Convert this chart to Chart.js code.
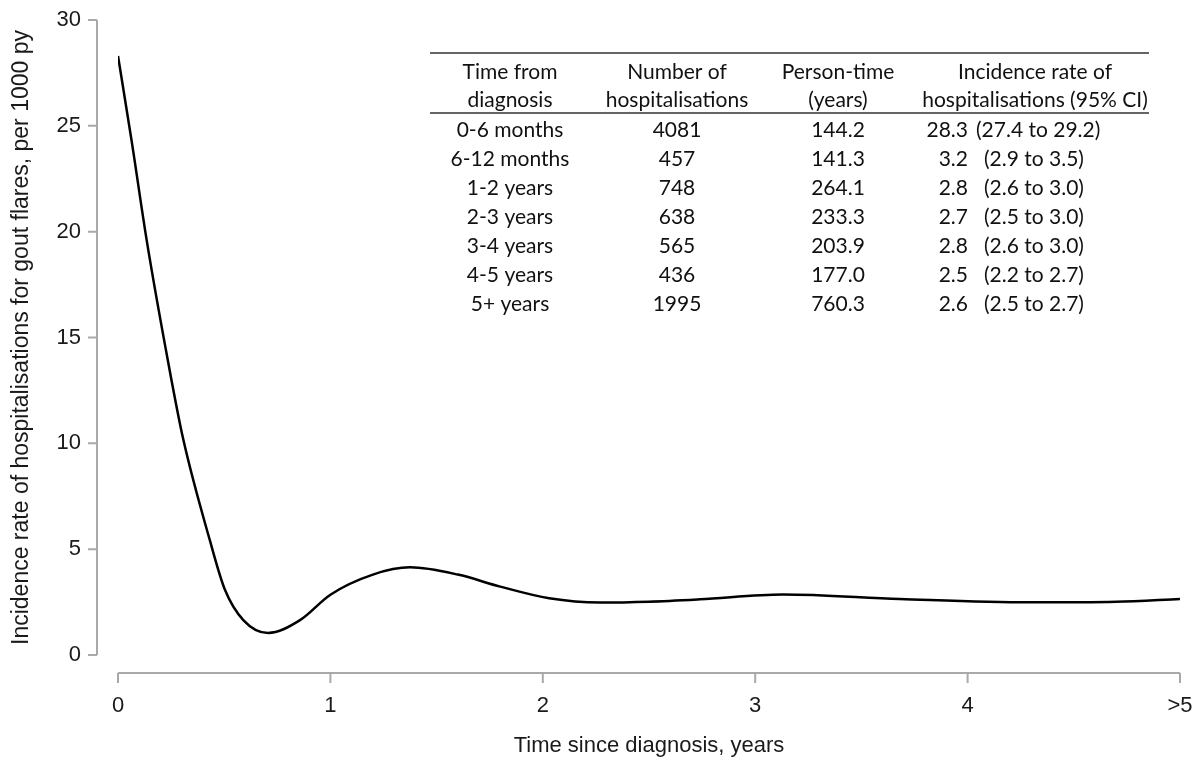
<!DOCTYPE html>
<html>
<head>
<meta charset="utf-8">
<script src="https://cdn.jsdelivr.net/npm/chart.js@4"></script>
<style>
  html, body { margin: 0; padding: 0; background: #fff; }
  #wrap { width: 1200px; height: 761px; }
</style>
</head>
<body>
<div id="wrap"><canvas id="c" width="1200" height="761"></canvas></div>
<script>
// curve (years since diagnosis, rate per 1000 py)
const years = [0, 0.064, 0.135, 0.235, 0.307, 0.433, 0.504, 0.59, 0.706, 0.857, 1.0, 1.2, 1.375, 1.6, 1.8, 2.03, 2.27, 2.5, 2.74, 3.13, 3.68, 4.29, 4.7, 5.0];
const rates = [28.3, 24.3, 19.6, 13.9, 10.2, 5.4, 3.07, 1.65, 1.04, 1.65, 2.85, 3.8, 4.14, 3.8, 3.23, 2.68, 2.48, 2.52, 2.63, 2.86, 2.65, 2.49, 2.52, 2.65];
const xTickLabels = ['0', '1', '2', '3', '4', '>5'];
const yTicks = [0, 5, 10, 15, 20, 25, 30];

// inset table
const tableHeaders = [
  ['Time from', 'diagnosis'],
  ['Number of', 'hospitalisations'],
  ['Person-time', '(years)'],
  ['Incidence rate of', 'hospitalisations (95% CI)']
];
const periods = ['0-6 months', '6-12 months', '1-2 years', '2-3 years', '3-4 years', '4-5 years', '5+ years'];
const hospitalisations = ['4081', '457', '748', '638', '565', '436', '1995'];
const personTime = ['144.2', '141.3', '264.1', '233.3', '203.9', '177.0', '760.3'];
const incidence = ['28.3', '3.2', '2.8', '2.7', '2.8', '2.5', '2.6'];
const ci = ['(27.4 to 29.2)', '(2.9 to 3.5)', '(2.6 to 3.0)', '(2.5 to 3.0)', '(2.6 to 3.0)', '(2.2 to 2.7)', '(2.5 to 2.7)'];

const AXIS_GREY = '#a9a9a9';
const TEXT = '#1a1a1a';

const detachedAxes = {
  id: 'detachedAxes',
  afterDraw(chart) {
    const { ctx, scales: { x, y } } = chart;
    ctx.save();
    ctx.strokeStyle = AXIS_GREY;
    ctx.lineWidth = 2;
    // y axis
    const ax = 97;
    ctx.beginPath();
    ctx.moveTo(ax, y.getPixelForValue(30));
    ctx.lineTo(ax, y.getPixelForValue(0));
    yTicks.forEach(v => {
      const py = y.getPixelForValue(v);
      ctx.moveTo(88, py);
      ctx.lineTo(ax, py);
    });
    ctx.stroke();
    // x axis
    const ay = 673;
    ctx.beginPath();
    ctx.moveTo(x.getPixelForValue(0), ay);
    ctx.lineTo(x.getPixelForValue(5), ay);
    xTickLabels.forEach((_, i) => {
      const px = x.getPixelForValue(i);
      ctx.moveTo(px, ay);
      ctx.lineTo(px, ay + 10);
    });
    ctx.stroke();
    ctx.restore();
  }
};

const insetTable = {
  id: 'insetTable',
  afterDraw(chart) {
    const ctx = chart.ctx;
    const cols = [510, 677, 838, 1035];
    ctx.save();
    ctx.strokeStyle = '#333';
    ctx.lineWidth = 1.5;
    ctx.beginPath();
    ctx.moveTo(430, 53);
    ctx.lineTo(1149, 53);
    ctx.moveTo(430, 113);
    ctx.lineTo(1149, 113);
    ctx.stroke();

    ctx.fillStyle = '#111';
    ctx.font = '21px Lato';
    ctx.textBaseline = 'middle';
    ctx.textAlign = 'center';
    tableHeaders.forEach((h, i) => {
      ctx.fillText(h[0], cols[i], 72);
      ctx.fillText(h[1], cols[i], 100);
    });
    periods.forEach((p, r) => {
      const ry = 130 + r * 29;
      ctx.textAlign = 'center';
      ctx.fillText(p, cols[0], ry);
      ctx.fillText(hospitalisations[r], cols[1], ry);
      ctx.fillText(personTime[r], cols[2], ry);
      ctx.textAlign = 'right';
      ctx.fillText(incidence[r], 968, ry);
      ctx.textAlign = 'left';
      ctx.fillText(ci[r], r === 0 ? 976 : 984, ry);
    });
    ctx.restore();
  }
};

new Chart(document.getElementById('c'), {
  type: 'line',
  data: {
    datasets: [{
      data: years.map((t, i) => ({ x: t, y: rates[i] })),
      borderColor: '#000',
      borderWidth: 2.5,
      pointRadius: 0,
      fill: false,
      cubicInterpolationMode: 'monotone'
    }]
  },
  options: {
    responsive: false,
    animation: false,
    layout: { padding: { top: 20, right: 20, left: 0, bottom: 0 } },
    plugins: { legend: { display: false }, tooltip: { enabled: false } },
    scales: {
      x: {
        type: 'linear',
        min: 0,
        max: 5,
        grid: { display: false, drawTicks: false },
        border: { display: false },
        ticks: {
          stepSize: 1,
          padding: 38,
          color: TEXT,
          font: { family: 'Liberation Sans', size: 22 },
          maxRotation: 0,
          callback: v => xTickLabels[v]
        },
        title: {
          display: true,
          text: 'Time since diagnosis, years',
          color: TEXT,
          font: { family: 'Liberation Sans', size: 22 },
          padding: { top: 0, bottom: 2 }
        },
        afterFit: s => {
          s.height = 106;
          s.paddingLeft = 0;
          s.paddingRight = 0;
        }
      },
      y: {
        min: 0,
        max: 30,
        grid: { display: false, drawTicks: false },
        border: { display: false },
        ticks: {
          stepSize: 5,
          padding: 37,
          color: TEXT,
          font: { family: 'Liberation Sans', size: 22 }
        },
        title: {
          display: true,
          text: 'Incidence rate of hospitalisations for gout flares, per 1000 py',
          color: TEXT,
          font: { family: 'Liberation Sans', size: 23 },
          padding: { top: 8, bottom: 0 }
        },
        afterFit: s => {
          s.width = 118;
          s.paddingTop = 0;
          s.paddingBottom = 0;
        }
      }
    }
  },
  plugins: [detachedAxes, insetTable]
});
</script>
</body>
</html>
